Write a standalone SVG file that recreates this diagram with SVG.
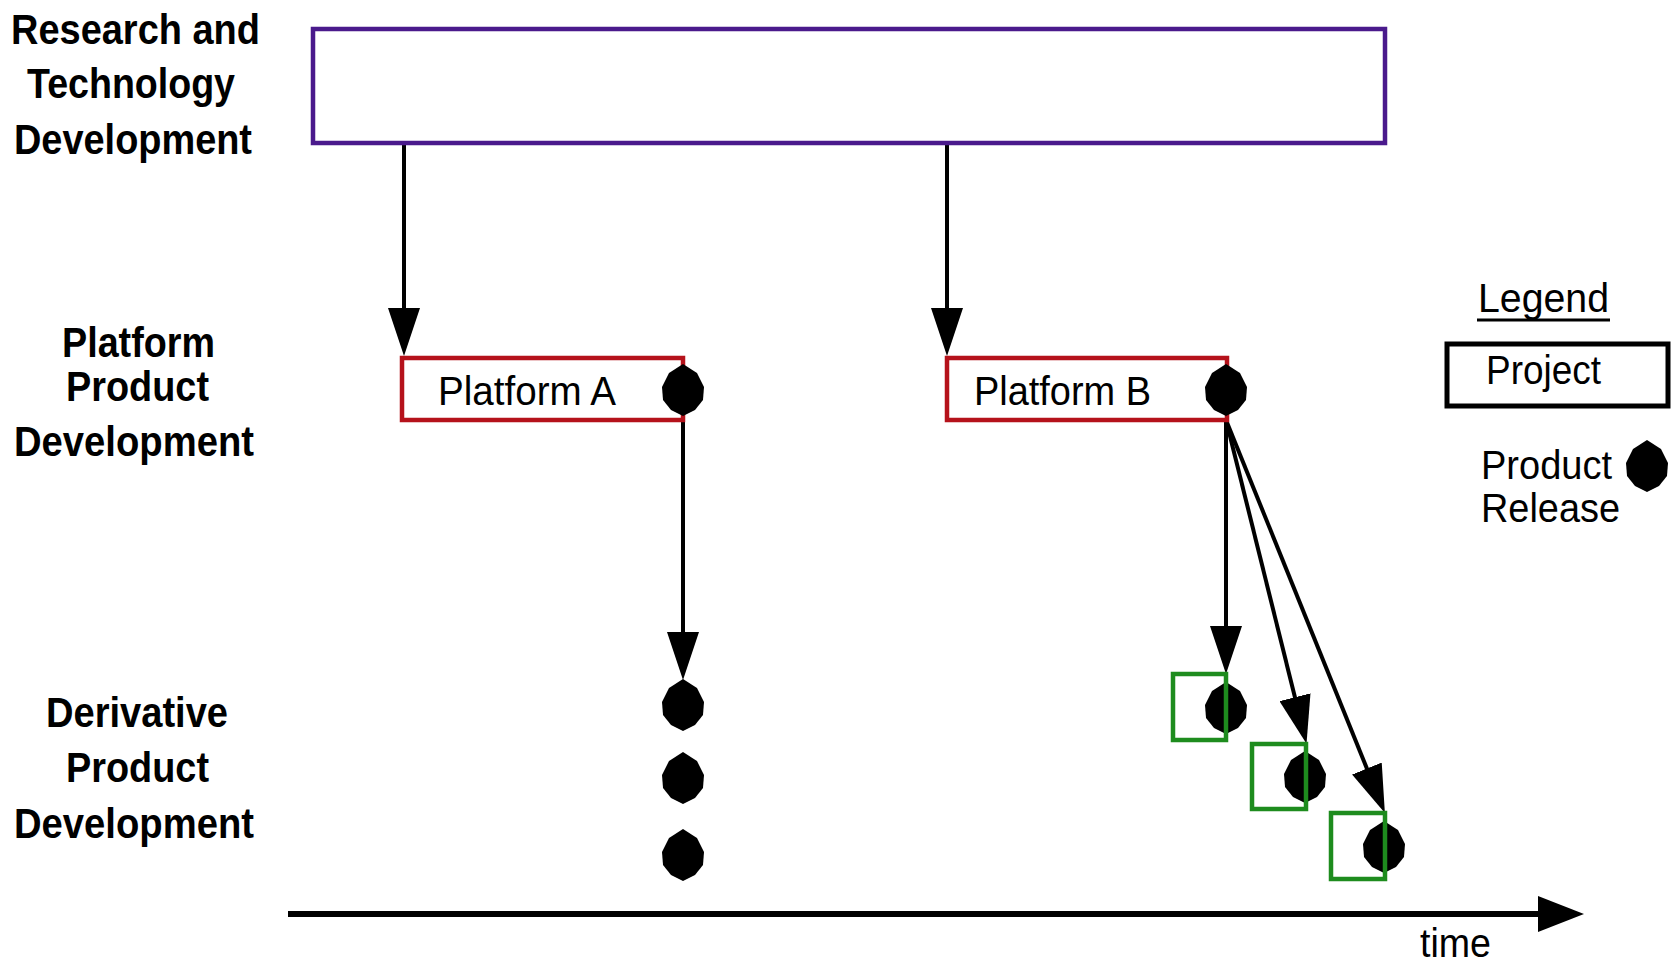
<svg xmlns="http://www.w3.org/2000/svg" width="1674" height="962" viewBox="0 0 1674 962">
<style>
.lbl{font-family:"Liberation Sans",Arial,sans-serif;font-weight:bold;font-size:43px;fill:#000}
.txt{font-family:"Liberation Sans",Arial,sans-serif;font-size:40px;fill:#000}
.conn{stroke:#000;stroke-width:4;fill:none}
.proj{fill:#fff;stroke-width:4.5}
.deriv{fill:none;stroke:#1e8c1e;stroke-width:4.5}
</style>
<defs>
<marker id="head" viewBox="0 0 48 32" markerWidth="48" markerHeight="32" refX="28" refY="16" orient="auto" markerUnits="userSpaceOnUse">
<path d="M0,0 L48,16 L0,32 Z" fill="#000"/>
</marker>
<marker id="axisHead" viewBox="0 0 46 36" markerWidth="46" markerHeight="36" refX="26" refY="18" orient="auto" markerUnits="userSpaceOnUse">
<path d="M0,0 L46,18 L0,36 Z" fill="#000"/>
</marker>
<polygon id="dot" points="0,-26 14,-17 21,-3 20,10 12,20 0,26 -12,20 -20,10 -21,-3 -14,-17"/>
</defs>
<rect width="1674" height="962" fill="#fff"/>

<g id="row-labels">
<text class="lbl" x="11" y="44" textLength="249" lengthAdjust="spacingAndGlyphs">Research and</text>
<text class="lbl" x="27" y="98" textLength="208" lengthAdjust="spacingAndGlyphs">Technology</text>
<text class="lbl" x="14" y="154" textLength="238" lengthAdjust="spacingAndGlyphs">Development</text>
<text class="lbl" x="62" y="357" textLength="153" lengthAdjust="spacingAndGlyphs">Platform</text>
<text class="lbl" x="66" y="401" textLength="143" lengthAdjust="spacingAndGlyphs">Product</text>
<text class="lbl" x="14" y="456" textLength="240" lengthAdjust="spacingAndGlyphs">Development</text>
<text class="lbl" x="46" y="727" textLength="182" lengthAdjust="spacingAndGlyphs">Derivative</text>
<text class="lbl" x="66" y="782" textLength="143" lengthAdjust="spacingAndGlyphs">Product</text>
<text class="lbl" x="14" y="838" textLength="240" lengthAdjust="spacingAndGlyphs">Development</text>
</g>

<g id="connectors">
<line class="conn" x1="404" y1="143" x2="404" y2="336" marker-end="url(#head)"/>
<line class="conn" x1="947" y1="143" x2="947" y2="336" marker-end="url(#head)"/>
<line class="conn" x1="683" y1="418" x2="683" y2="660" marker-end="url(#head)"/>
<line class="conn" x1="1226" y1="420" x2="1226" y2="654" marker-end="url(#head)"/>
<line class="conn" x1="1226" y1="420" x2="1301.7" y2="724.4" marker-end="url(#head)"/>
<line class="conn" x1="1226" y1="420" x2="1377.4" y2="794.5" marker-end="url(#head)"/>
<line x1="288" y1="914" x2="1564" y2="914" stroke="#000" stroke-width="6" marker-end="url(#axisHead)"/>
</g>

<g id="research">
<rect x="313" y="29" width="1072" height="114" fill="#fff" stroke="#4a1a8c" stroke-width="4.5"/>
</g>

<g id="platform-a">
<rect class="proj" x="402" y="358" width="281" height="62" stroke="#b5121b"/>
<text class="txt" x="438" y="405" textLength="178" lengthAdjust="spacingAndGlyphs">Platform A</text>
<use href="#dot" x="683" y="390"/>
</g>

<g id="platform-b">
<rect class="proj" x="947" y="358" width="280" height="62" stroke="#b5121b"/>
<text class="txt" x="974" y="405" textLength="177" lengthAdjust="spacingAndGlyphs">Platform B</text>
<use href="#dot" x="1226" y="390"/>
</g>

<g id="derivatives-a">
<use href="#dot" x="683" y="705"/>
<use href="#dot" x="683" y="778"/>
<use href="#dot" x="683" y="855"/>
</g>

<g id="derivative-b1">
<use href="#dot" x="1226" y="708"/>
<rect class="deriv" x="1173" y="674" width="53" height="66"/>
</g>
<g id="derivative-b2">
<use href="#dot" x="1305" y="777"/>
<rect class="deriv" x="1252" y="744" width="54" height="65"/>
</g>
<g id="derivative-b3">
<use href="#dot" x="1384" y="847"/>
<rect class="deriv" x="1331" y="813" width="54" height="66"/>
</g>

<g id="time-label">
<text class="txt" x="1420" y="957" textLength="71" lengthAdjust="spacingAndGlyphs">time</text>
</g>

<g id="legend">
<text class="txt" x="1478" y="312" textLength="131" lengthAdjust="spacingAndGlyphs">Legend</text>
<line x1="1477" y1="320" x2="1610" y2="320" stroke="#000" stroke-width="3"/>
<rect x="1447" y="344" width="221" height="62" fill="#fff" stroke="#000" stroke-width="5"/>
<text class="txt" x="1486" y="384" textLength="115" lengthAdjust="spacingAndGlyphs">Project</text>
<text class="txt" x="1481" y="479" textLength="131" lengthAdjust="spacingAndGlyphs">Product</text>
<text class="txt" x="1481" y="522" textLength="139" lengthAdjust="spacingAndGlyphs">Release</text>
<use href="#dot" x="1647" y="466"/>
</g>
</svg>
